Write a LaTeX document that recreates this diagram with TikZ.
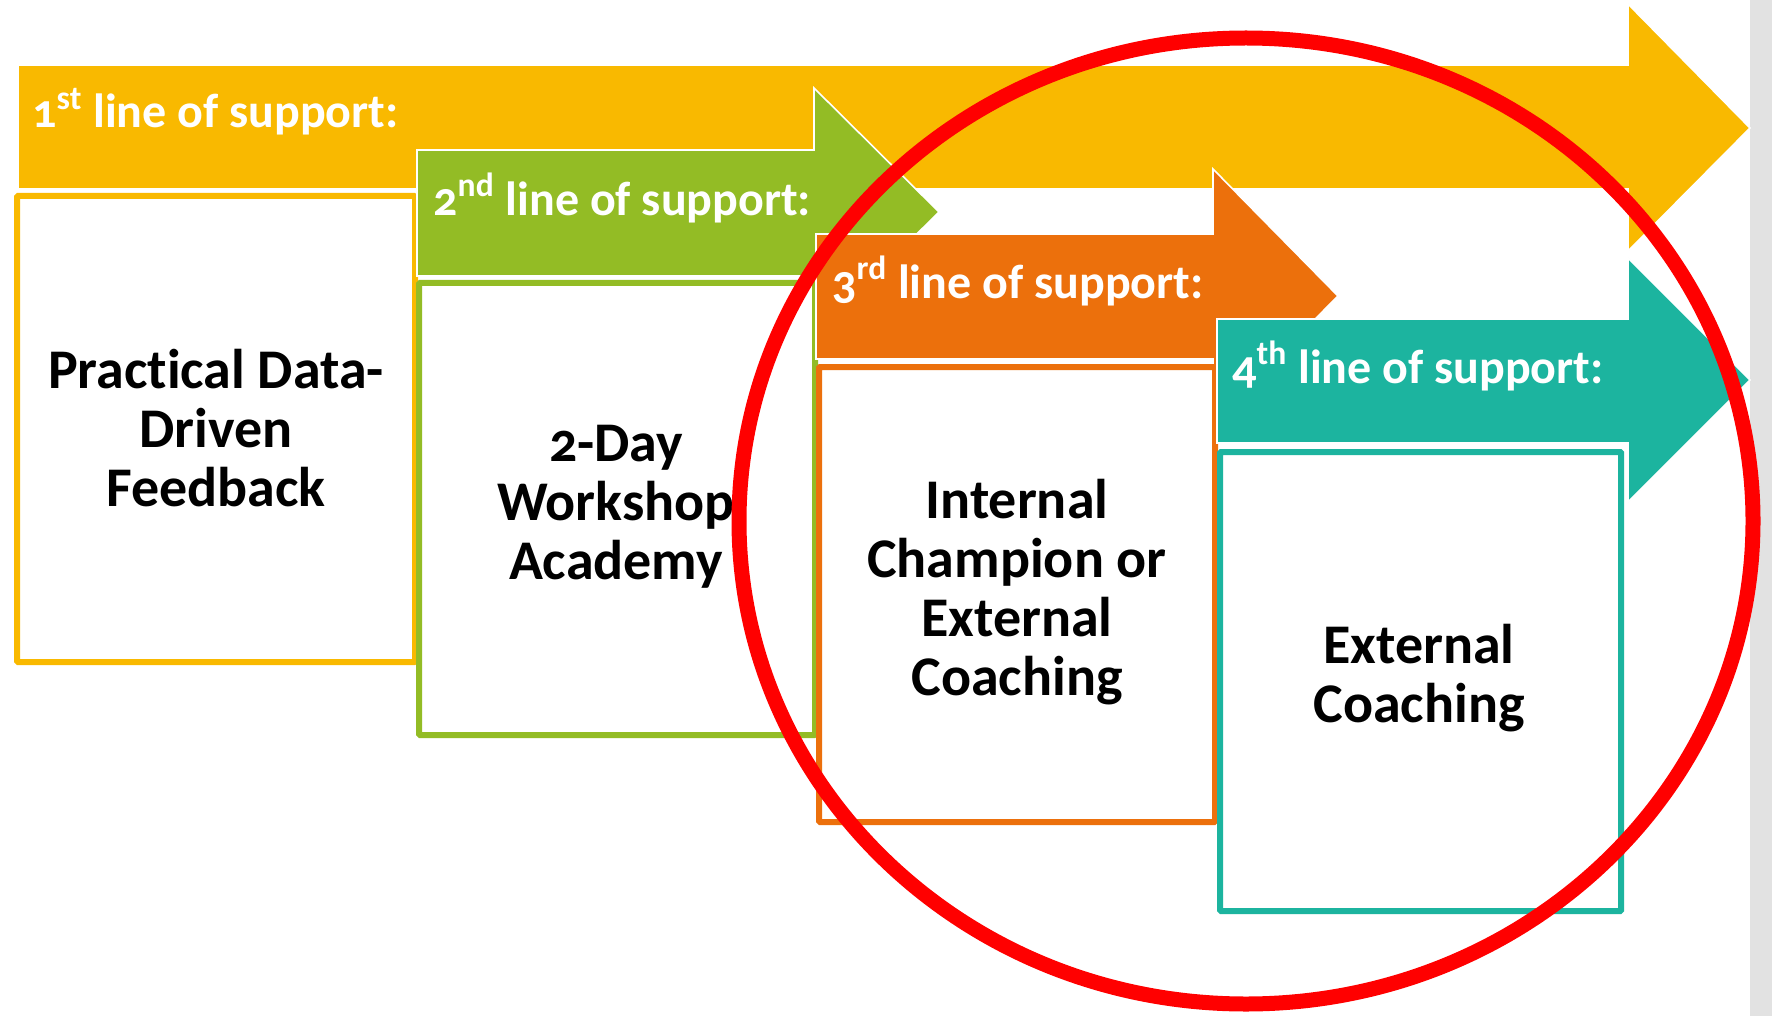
\documentclass[tikz,border=0pt]{standalone}
\usepackage{fontspec}
\setmainfont{Carlito}[Numbers=OldStyle, Ligatures={NoCommon, NoContextual, NoRequired}]
\usetikzlibrary{positioning}

\definecolor{supyellow}{HTML}{F9B900}
\definecolor{supgreen}{HTML}{93BC25}
\definecolor{suporange}{HTML}{EC700C}
\definecolor{supteal}{HTML}{1CB49F}
\definecolor{sidegray}{HTML}{E2E2E2}

\tikzset{
  linehead/.style={white, font=\fontsize{24}{26}\selectfont\bfseries, anchor=west, inner sep=0pt},
  boxtext/.style={black, font=\fontsize{28}{29.5}\selectfont\bfseries, align=center, inner sep=0pt},
  arrowfill/.style={fill=#1, draw=white, line width=0.8pt},
  stepframe/.style={draw=#1, fill=white, line width=3pt, rounded corners=0.5pt}
}

\begin{document}
\begin{tikzpicture}[x=0.5pt, y=-0.5pt]
      \useasboundingbox (0, 0) rectangle (1772, 1016);
      \fill [white] (0, 0) rectangle (1772, 1016);
      \fill [sidegray] (1750, 0) rectangle (1772, 1016);
      % 1st line
      \filldraw [arrowfill=supyellow] (18, 65) -- (1628, 65) -- (1628, 4) -- (1750, 128) %
      -- (1628, 251) -- (1628, 189) -- (18, 189) -- cycle;
      \node [linehead] (first) at (32, 112) {1\textsuperscript{st} line of support:};
      \draw [stepframe=supyellow] (17, 196) rectangle (415, 662);
      \node [boxtext] (feedback) at (216, 428) {Pract\kern0pt ical Data-\\Driven\\Feedback};
      % 2nd line
      \filldraw [arrowfill=supgreen] (417, 150) -- (814, 150) -- (814, 88) -- (939, 212) %
      -- (814, 336) -- (814, 276) -- (417, 276) -- cycle;
      \node [linehead] (second) at (433, 198) {2\textsuperscript{nd} line of support:};
      \draw [stepframe=supgreen] (419, 283) rectangle (815, 735);
      \node [boxtext] (workshop) at (616, 507) {2-Day\\Workshop\\Academy};
      % 3rd line
      \filldraw [arrowfill=suporange] (816, 234) -- (1213, 234) -- (1213, 169) -- (1338, 296) %
      -- (1213, 422) -- (1213, 359) -- (816, 359) -- cycle;
      \node [linehead] (third) at (832, 281) {3\textsuperscript{rd} line of support:};
      \draw [stepframe=suporange] (819, 367) rectangle (1215, 822);
      \node [boxtext] (champion) at (1017, 592) {Internal\\Champion or\\External\\Coaching};
      % 4th line
      \filldraw [arrowfill=supteal] (1217, 319) -- (1628, 319) -- (1628, 258) -- (1750, 380) %
      -- (1628, 502) -- (1628, 443) -- (1217, 443) -- cycle;
      \node [linehead] (fourth) at (1232, 366) {4\textsuperscript{th} line of support:};
      \draw [stepframe=supteal] (1220, 452) rectangle (1621, 911);
      \node [boxtext] (coaching) at (1419, 678) {External\\Coaching};
      % red ring
      \draw [red, line width=7.5pt] (1246, 521) ellipse [x radius=507, y radius=483];
\end{tikzpicture}
\end{document}
